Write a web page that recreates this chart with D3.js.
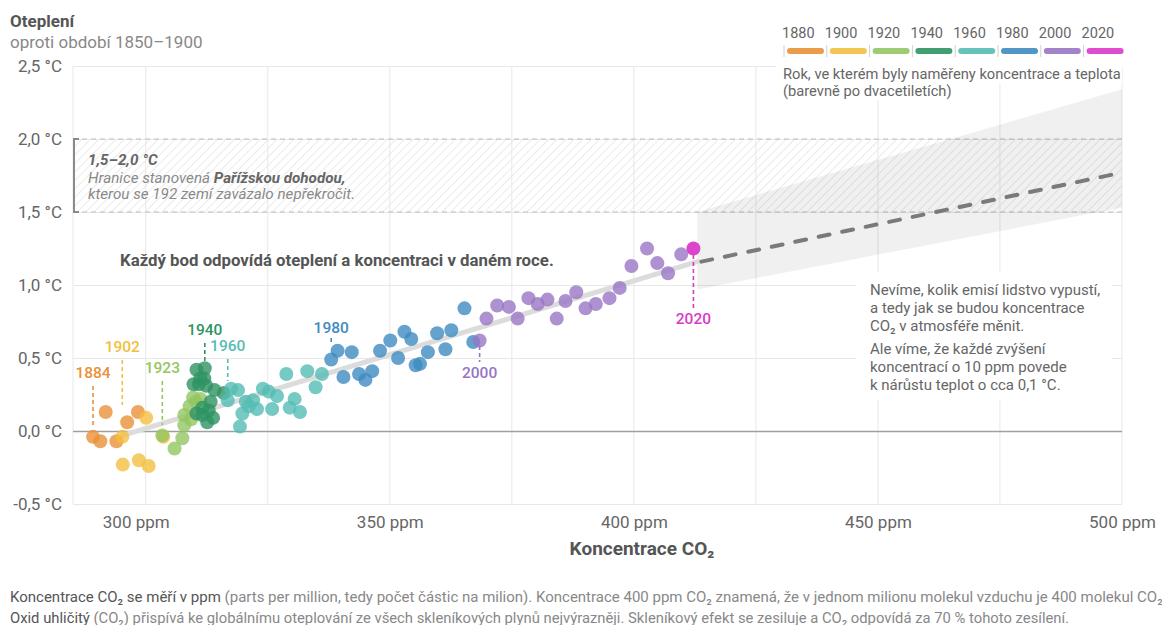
<!DOCTYPE html>
<html>
<head>
<meta charset="utf-8">
<script src="https://cdn.jsdelivr.net/npm/d3@7"></script>
<style>
  body { margin: 0; background: #fff; font-family: Roboto, "Noto Sans", sans-serif; }
  svg text { font-family: Roboto, "Noto Sans", sans-serif; }
</style>
</head>
<body>
<div id="chart"></div>
<script>
// rok, koncentrace CO2 (ppm), oteplení (°C)
var years = [1884, 1886, 1889, 1893, 1896, 1898,
  1902, 1904, 1909, 1911, 1912, 1917,
  1923, 1925, 1927, 1929, 1930, 1932, 1934, 1936, 1937, 1939,
  1940, 1941, 1942, 1943, 1944, 1945, 1946, 1947, 1948, 1949, 1950, 1951, 1952, 1953, 1954, 1955,
  1960, 1961, 1962, 1963, 1964, 1965, 1966, 1967, 1968, 1969, 1970, 1971, 1972, 1973, 1974, 1975, 1976, 1977, 1978, 1979,
  1980, 1981, 1982, 1983, 1984, 1985, 1986, 1987, 1988, 1989, 1990, 1991, 1992, 1993, 1994, 1995, 1996, 1997, 1998, 1999,
  2000, 2001, 2002, 2003, 2004, 2005, 2006, 2007, 2008, 2009, 2010, 2011, 2012, 2013, 2014, 2015, 2016, 2017, 2018, 2019,
  2020];
var co2 = [289.2, 290.7, 291.8, 294.0, 296.2, 298.4,
  295.2, 295.3, 298.6, 300.1, 300.6, 303.6,
  303.4, 305.9, 307.5, 307.9, 307.9, 309.3, 309.0, 310.3, 309.7, 311.2,
  312.1, 310.4, 312.0, 309.8, 310.9, 312.4, 311.6, 310.4, 311.6, 312.6, 313.8, 314.1, 316.0, 311.2, 312.9, 313.3,
  316.8, 317.5, 318.9, 319.3, 319.8, 320.5, 321.1, 322.0, 322.8, 324.0, 325.2, 325.9, 326.9, 328.8, 329.5, 330.5, 331.6, 333.1, 334.8, 336.1,
  338.0, 339.3, 340.5, 342.2, 343.7, 345.0, 346.4, 348.0, 350.1, 351.7, 353.0, 354.4, 355.3, 356.2, 357.8, 359.7, 361.4, 362.6, 365.3, 367.1,
  368.4, 369.8, 372.0, 374.4, 376.2, 378.4, 380.3, 382.3, 384.2, 386.0, 388.2, 390.1, 392.2, 395.0, 397.1, 399.5, 402.7, 404.8, 407.0, 409.7,
  412.2];
var warming = [-0.04, -0.07, 0.13, -0.07, 0.06, 0.13,
  -0.04, -0.23, -0.20, 0.09, -0.24, -0.04,
  -0.03, -0.12, -0.05, 0.04, 0.11, 0.08, 0.17, 0.20, 0.23, 0.22,
  0.43, 0.42, 0.36, 0.32, 0.32, 0.31, 0.16, 0.12, 0.11, 0.06, 0.09, 0.28, 0.26, 0.36, 0.14, 0.20,
  0.21, 0.29, 0.28, 0.03, 0.12, 0.20, 0.17, 0.21, 0.15, 0.29, 0.27, 0.15, 0.24, 0.39, 0.16, 0.22, 0.13, 0.41, 0.30, 0.39,
  0.49, 0.55, 0.37, 0.54, 0.39, 0.35, 0.41, 0.55, 0.62, 0.50, 0.68, 0.63, 0.45, 0.46, 0.54, 0.67, 0.56, 0.69, 0.84, 0.61,
  0.62, 0.77, 0.86, 0.85, 0.77, 0.91, 0.87, 0.90, 0.77, 0.89, 0.95, 0.84, 0.87, 0.91, 0.98, 1.13, 1.25, 1.15, 1.08, 1.21,
  1.25];

var periods = ["1880", "1900", "1920", "1940", "1960", "1980", "2000", "2020"];
var periodColors = ["#e8913a", "#f2bf3f", "#94c663", "#2e9463", "#55bdb4", "#3f8bc0", "#9875c4", "#d93ac8"];

var labelYears = [1884, 1902, 1923, 1940, 1960, 1980, 2000, 2020];

var yTicks = [-0.5, 0, 0.5, 1, 1.5, 2, 2.5];
var xTicks = [300, 350, 400, 450, 500];
var xGrid = [300, 325, 350, 375, 400, 425, 450, 475, 500];

// trend a odhad
var trendCo2 = [295.3, 413];
var trendWarming = [-0.03, 1.16];
var projCo2 = [413, 500];
var projWarming = [1.16, 1.77];
var coneCo2 = [413, 500, 500, 413];
var coneWarming = [1.50, 2.34, 1.53, 0.97];

var svgWidth = 1162;
var svgHeight = 625;
var plotLeft = 73, plotRight = 1122, plotTop = 66, plotBottom = 504;

var svg = d3.select("#chart").append("svg")
    .attr("width", svgWidth)
    .attr("height", svgHeight);

var x = d3.scaleLinear().domain([285.1, 500]).range([plotLeft, plotRight]);
var y = d3.scaleLinear().domain([-0.5, 2.5]).range([plotBottom, plotTop]);

function colorOf(year) {
    var i = Math.min(7, Math.floor((year - 1880) / 20));
    return periodColors[i];
}

var fmt = d => d3.format(".1f")(d).replace(".", ",").replace("−", "-") + " °C";

// hatch pattern
var defs = svg.append("defs");
defs.append("pattern")
    .attr("id", "hatch")
    .attr("patternUnits", "userSpaceOnUse")
    .attr("width", 6).attr("height", 6)
    .attr("patternTransform", "rotate(45)")
    .append("line")
    .attr("x1", 0).attr("y1", 0).attr("x2", 0).attr("y2", 6)
    .attr("stroke", "#e6e6e6").attr("stroke-width", 1.6);

// grid
var grid = svg.append("g");
grid.selectAll(".vg")
    .data(xGrid.concat([285.1]))
    .enter().append("line")
    .attr("x1", d => x(d)).attr("x2", d => x(d))
    .attr("y1", plotTop).attr("y2", plotBottom)
    .attr("stroke", "#e8e8e8").attr("stroke-width", 1);

var yAxis = svg.append("g")
    .attr("transform", `translate(${plotLeft},0)`)
    .call(d3.axisLeft(y).tickValues(yTicks).tickSize(-(plotRight - plotLeft)).tickPadding(11).tickFormat(fmt));
yAxis.select(".domain").remove();
yAxis.selectAll("line").attr("stroke", d => d === 0 ? "#a0a0a0" : "#e8e8e8").attr("stroke-width", d => d === 0 ? 1.5 : 1);
yAxis.selectAll("text").attr("fill", "#666").attr("font-size", "17px");

var xAxis = svg.append("g")
    .attr("transform", `translate(0,${plotBottom})`)
    .call(d3.axisBottom(x).tickValues(xTicks).tickSize(0).tickPadding(12).tickFormat(d => d + " ppm"));
xAxis.select(".domain").remove();
xAxis.selectAll("text").attr("fill", "#666").attr("font-size", "17px")
    .attr("dx", d => d === 300 ? -10 : 0);

// Paris band
svg.append("rect")
    .attr("x", plotLeft).attr("y", y(2))
    .attr("width", plotRight - plotLeft).attr("height", y(1.5) - y(2))
    .attr("fill", "url(#hatch)");
svg.selectAll(".pl")
    .data([1.5, 2])
    .enter().append("line")
    .attr("x1", plotLeft).attr("x2", plotRight)
    .attr("y1", d => y(d)).attr("y2", d => y(d))
    .attr("stroke", "#bdbdbd").attr("stroke-width", 1.2)
    .attr("stroke-dasharray", "5,4");
svg.append("path")
    .attr("d", `M${plotLeft + 6},${y(2)} H${plotLeft + 1} V${y(1.5)} H${plotLeft + 6}`)
    .attr("fill", "none").attr("stroke", "#8a8a8a").attr("stroke-width", 2);

var paris = svg.append("text").attr("x", 88).attr("font-style", "italic").attr("font-size", "15.2px");
paris.append("tspan").attr("x", 88).attr("y", 165).attr("font-weight", "bold").attr("fill", "#666").text("1,5–2,0 °C");
var l2 = paris.append("tspan").attr("x", 88).attr("y", 183).attr("fill", "#8a8a8a");
l2.append("tspan").text("Hranice stanovená ");
l2.append("tspan").attr("font-weight", "bold").attr("fill", "#666").text("Pařížskou dohodou,");
paris.append("tspan").attr("x", 88).attr("y", 199).attr("fill", "#8a8a8a").text("kterou se 192 zemí zavázalo nepřekročit.");

// projection cone
svg.append("path")
    .datum(d3.range(coneCo2.length))
    .attr("d", d3.line().x(i => x(coneCo2[i])).y(i => y(coneWarming[i])).curve(d3.curveLinearClosed))
    .attr("fill", "rgba(0,0,0,0.06)");

// legend description box
svg.append("rect").attr("x", 776).attr("y", 61).attr("width", 346).attr("height", 23).attr("fill", "#fff");
svg.append("rect").attr("x", 776).attr("y", 84).attr("width", 190).attr("height", 16).attr("fill", "#fff");
svg.append("text").attr("x", 783).attr("y", 79).attr("font-size", "14.7px").attr("fill", "#666")
    .text("Rok, ve kterém byly naměřeny koncentrace a teplota");
svg.append("text").attr("x", 783).attr("y", 96).attr("font-size", "14.7px").attr("fill", "#666")
    .text("(barevně po dvacetiletích)");

// right note
svg.append("rect").attr("x", 856).attr("y", 272).attr("width", 256).attr("height", 128).attr("fill", "#fff");
var noteLines = [
    ["Nevíme, kolik emisí lidstvo vypustí,", 295],
    ["a tedy jak se budou koncentrace", 313],
    ["CO₂ v atmosféře měnit.", 331],
    ["Ale víme, že každé zvýšení", 354],
    ["koncentrací o 10 ppm povede", 372],
    ["k nárůstu teplot o cca 0,1 °C.", 390]
];
svg.selectAll(".note")
    .data(noteLines)
    .enter().append("text")
    .attr("x", 870).attr("y", d => d[1])
    .attr("font-size", "15px").attr("fill", "#666")
    .text(d => d[0]);

// trend line
svg.append("line")
    .attr("x1", x(trendCo2[0])).attr("y1", y(trendWarming[0]))
    .attr("x2", x(trendCo2[1])).attr("y2", y(trendWarming[1]))
    .attr("stroke", "#dcdcdc").attr("stroke-width", 5).attr("stroke-linecap", "round");
svg.append("line")
    .attr("x1", x(projCo2[0]) + 4).attr("y1", y(projWarming[0]))
    .attr("x2", x(projCo2[1])).attr("y2", y(projWarming[1]))
    .attr("stroke", "#7a7a7a").attr("stroke-width", 4)
    .attr("stroke-dasharray", "11,13").attr("stroke-linecap", "round");

svg.append("text").attr("x", 120).attr("y", 266)
    .attr("font-size", "16.8px").attr("font-weight", "bold").attr("fill", "#555")
    .text("Každý bod odpovídá oteplení a koncentraci v daném roce.");

// year labels with leaders
var labelSpec = {
    1884: { ly: 378, y1: 386, y2: 425 },
    1902: { ly: 352, y1: 360, y2: 405 },
    1923: { ly: 373, y1: 381, y2: 425 },
    1940: { ly: 335, y1: 343, y2: 362 },
    1960: { ly: 351, y1: 359, y2: 381 },
    1980: { ly: 333, y1: 338, y2: 344 },
    2000: { ly: 378, y1: 346, y2: 362 },
    2020: { ly: 324, y1: 255, y2: 309 }
};
labelYears.forEach(function(yr) {
    var s = labelSpec[yr];
    var c = colorOf(yr);
    var i = years.indexOf(yr);
    svg.append("line")
        .attr("x1", x(co2[i])).attr("x2", x(co2[i]))
        .attr("y1", s.y1).attr("y2", s.y2)
        .attr("stroke", c).attr("stroke-width", 1.6).attr("stroke-dasharray", "4,3");
    svg.append("text")
        .attr("x", x(co2[i])).attr("y", s.ly)
        .attr("text-anchor", "middle")
        .attr("font-size", "15.5px").attr("font-weight", 500)
        .attr("fill", c).text(yr);
});

// points
svg.append("g").selectAll("circle")
    .data(d3.range(years.length))
    .enter().append("circle")
    .attr("cx", i => x(co2[i]))
    .attr("cy", i => y(warming[i]))
    .attr("r", 7)
    .attr("fill", i => colorOf(years[i]))
    .attr("fill-opacity", i => years[i] === 2020 ? 0.95 : 0.8);

// legend
var lg = svg.append("g");
periods.forEach(function(p, i) {
    var x0 = 784 + i * 42.8;
    lg.append("line").attr("x1", x0).attr("x2", x0).attr("y1", 45).attr("y2", 57)
        .attr("stroke", "#d0d0d0").attr("stroke-width", 1);
    lg.append("line").attr("x1", x0 + 6).attr("x2", x0 + 37).attr("y1", 51).attr("y2", 51)
        .attr("stroke", periodColors[i]).attr("stroke-width", 6).attr("stroke-linecap", "round")
        .attr("stroke-opacity", 0.9);
    lg.append("text").attr("x", x0 - 2).attr("y", 38)
        .attr("font-size", "14.5px").attr("fill", "#666").text(p);
});

// titles
svg.append("text").attr("x", 10).attr("y", 27)
    .attr("font-size", "17px").attr("font-weight", "bold").attr("fill", "#555").text("Oteplení");
svg.append("text").attr("x", 10).attr("y", 48)
    .attr("font-size", "17px").attr("fill", "#888").text("oproti období 1850–1900");

svg.append("text").attr("x", 642).attr("y", 555).attr("text-anchor", "middle")
    .attr("font-size", "19px").attr("font-weight", "bold").attr("fill", "#555").text("Koncentrace CO₂");

// footer
var f1 = svg.append("text").attr("x", 10).attr("y", 602).attr("font-size", "15px").attr("fill", "#888");
f1.append("tspan").attr("fill", "#555").text("Koncentrace CO₂ se měří v ppm");
f1.append("tspan").text(" (parts per million, tedy počet částic na milion). Koncentrace 400 ppm CO₂ znamená, že v jednom milionu molekul vzduchu je 400 molekul CO₂.");
var f2 = svg.append("text").attr("x", 10).attr("y", 623).attr("font-size", "14.8px").attr("fill", "#888");
f2.append("tspan").attr("fill", "#555").text("Oxid uhličitý");
f2.append("tspan").text(" (CO₂) přispívá ke globálnímu oteplování ze všech skleníkových plynů nejvýrazněji. Skleníkový efekt se zesiluje a CO₂ odpovídá za 70 % tohoto zesílení.");
</script>
</body>
</html>
